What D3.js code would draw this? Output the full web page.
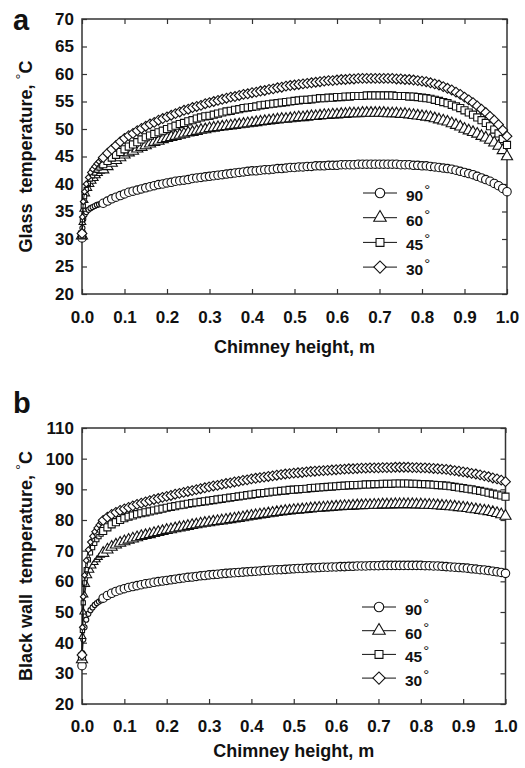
<!DOCTYPE html>
<html>
<head>
<meta charset="utf-8">
<script src="https://cdn.jsdelivr.net/npm/d3@7"></script>
<style>
  html, body { margin: 0; padding: 0; background: #fff; }
  svg { display: block; font-family: "Liberation Sans", Arial, sans-serif; font-weight: bold; }
</style>
</head>
<body>
<script>
// chimney height, m (fine grid near the inlet, then every 0.01)
const heights = [
  0, 0.001, 0.003, 0.006, 0.01, 0.015, 0.02, 0.025, 0.03, 0.035, 0.04, 0.045,
  0.05, 0.06, 0.07, 0.08, 0.09, 0.10, 0.11, 0.12, 0.13, 0.14, 0.15, 0.16, 0.17, 0.18, 0.19,
  0.20, 0.21, 0.22, 0.23, 0.24, 0.25, 0.26, 0.27, 0.28, 0.29, 0.30, 0.31, 0.32, 0.33, 0.34,
  0.35, 0.36, 0.37, 0.38, 0.39, 0.40, 0.41, 0.42, 0.43, 0.44, 0.45, 0.46, 0.47, 0.48, 0.49,
  0.50, 0.51, 0.52, 0.53, 0.54, 0.55, 0.56, 0.57, 0.58, 0.59, 0.60, 0.61, 0.62, 0.63, 0.64,
  0.65, 0.66, 0.67, 0.68, 0.69, 0.70, 0.71, 0.72, 0.73, 0.74, 0.75, 0.76, 0.77, 0.78, 0.79,
  0.80, 0.81, 0.82, 0.83, 0.84, 0.85, 0.86, 0.87, 0.88, 0.89, 0.90, 0.91, 0.92, 0.93, 0.94,
  0.95, 0.96, 0.97, 0.98, 0.99, 1.00
]
const angles = ['90', '60', '45', '30']

// (a) glass temperature, °C
const glass90 = [
  30.2, 32.0, 33.6, 34.4, 34.9, 35.3, 35.6, 35.8, 36.0, 36.2, 36.3, 36.4,
  36.5, 36.9, 37.3, 37.6, 37.9, 38.2, 38.5, 38.7, 38.9, 39.1, 39.3, 39.5, 39.7, 39.9, 40.0,
  40.2, 40.3, 40.5, 40.6, 40.7, 40.8, 41.0, 41.1, 41.2, 41.3, 41.4, 41.5, 41.6, 41.7, 41.8,
  41.9, 42.0, 42.1, 42.2, 42.3, 42.4, 42.4, 42.5, 42.6, 42.6, 42.7, 42.8, 42.8, 42.9, 43.0,
  43.0, 43.1, 43.1, 43.2, 43.2, 43.3, 43.3, 43.3, 43.4, 43.4, 43.4, 43.5, 43.5, 43.5, 43.5,
  43.6, 43.6, 43.6, 43.6, 43.6, 43.6, 43.6, 43.6, 43.6, 43.6, 43.5, 43.5, 43.5, 43.4, 43.4,
  43.3, 43.3, 43.2, 43.1, 43.0, 42.9, 42.8, 42.7, 42.5, 42.3, 42.1, 41.9, 41.7, 41.4, 41.1,
  40.8, 40.5, 40.1, 39.7, 39.2, 38.6
]
const glass60 = [
  30.6, 33.0, 35.4, 37.0, 38.2, 39.2, 39.9, 40.5, 41.0, 41.5, 41.9, 42.3,
  42.6, 43.2, 43.8, 44.3, 44.8, 45.3, 45.7, 46.0, 46.4, 46.7, 47.0, 47.3, 47.6, 47.8, 48.1,
  48.3, 48.5, 48.7, 48.9, 49.1, 49.3, 49.4, 49.6, 49.8, 49.9, 50.1, 50.2, 50.3, 50.4, 50.5,
  50.6, 50.7, 50.8, 50.9, 51.0, 51.1, 51.2, 51.3, 51.4, 51.5, 51.6, 51.7, 51.8, 51.8, 51.9,
  52.0, 52.1, 52.1, 52.2, 52.3, 52.3, 52.4, 52.5, 52.5, 52.6, 52.6, 52.7, 52.7, 52.8, 52.8,
  52.8, 52.9, 52.9, 52.9, 52.9, 52.9, 52.9, 52.8, 52.8, 52.8, 52.7, 52.7, 52.6, 52.5, 52.4,
  52.3, 52.2, 52.1, 51.9, 51.7, 51.5, 51.3, 51.0, 50.7, 50.4, 50.0, 49.7, 49.4, 49.1, 48.7,
  48.4, 48.0, 47.5, 46.9, 46.1, 45.0
]
const glass45 = [
  30.8, 33.5, 36.0, 37.7, 39.0, 40.1, 40.9, 41.5, 42.0, 42.5, 42.9, 43.3,
  43.6, 44.2, 44.8, 45.3, 45.8, 46.3, 46.8, 47.2, 47.6, 48.1, 48.5, 48.8, 49.1, 49.4, 49.7,
  50.0, 50.3, 50.6, 50.9, 51.1, 51.4, 51.6, 51.9, 52.1, 52.3, 52.4, 52.6, 52.8, 53.0, 53.2,
  53.3, 53.5, 53.6, 53.8, 53.9, 54.0, 54.1, 54.3, 54.4, 54.5, 54.6, 54.7, 54.8, 54.9, 55.0,
  55.1, 55.2, 55.3, 55.3, 55.4, 55.5, 55.6, 55.6, 55.7, 55.7, 55.8, 55.8, 55.9, 55.9, 56.0,
  56.0, 56.0, 56.1, 56.1, 56.1, 56.1, 56.1, 56.1, 56.1, 56.0, 56.0, 56.0, 55.9, 55.9, 55.8,
  55.7, 55.6, 55.5, 55.3, 55.1, 54.9, 54.7, 54.4, 54.1, 53.8, 53.4, 53.0, 52.6, 52.1, 51.6,
  51.1, 50.5, 49.9, 49.2, 48.2, 47.1
]
const glass30 = [
  31.0, 34.0, 36.8, 38.6, 40.0, 41.2, 42.1, 42.7, 43.2, 43.7, 44.1, 44.5,
  44.8, 45.6, 46.3, 47.0, 47.7, 48.3, 48.8, 49.2, 49.7, 50.1, 50.5, 50.9, 51.2, 51.6, 51.9,
  52.2, 52.5, 52.8, 53.1, 53.4, 53.6, 53.9, 54.1, 54.3, 54.6, 54.8, 55.0, 55.2, 55.4, 55.6,
  55.8, 55.9, 56.1, 56.3, 56.4, 56.6, 56.7, 56.9, 57.0, 57.2, 57.3, 57.5, 57.6, 57.8, 57.9,
  58.0, 58.1, 58.2, 58.3, 58.4, 58.5, 58.6, 58.7, 58.8, 58.8, 58.9, 59.0, 59.0, 59.1, 59.1,
  59.2, 59.2, 59.2, 59.2, 59.2, 59.2, 59.2, 59.2, 59.2, 59.1, 59.1, 59.0, 59.0, 58.9, 58.8,
  58.7, 58.6, 58.4, 58.2, 58.0, 57.7, 57.4, 57.1, 56.7, 56.3, 55.8, 55.3, 54.8, 54.2, 53.6,
  53.0, 52.3, 51.6, 50.8, 49.8, 48.7
]

// (b) black wall temperature, °C
const wall90 = [
  32.5, 36.6, 41.0, 45.0, 47.5, 49.4, 50.6, 51.5, 52.3, 52.9, 53.4, 53.8,
  54.5, 55.4, 56.1, 56.7, 57.2, 57.6, 58.0, 58.3, 58.6, 58.9, 59.2, 59.4, 59.7, 59.9, 60.1,
  60.3, 60.5, 60.7, 60.9, 61.1, 61.3, 61.4, 61.6, 61.8, 61.9, 62.1, 62.2, 62.3, 62.5, 62.6,
  62.7, 62.8, 62.9, 63.0, 63.1, 63.2, 63.3, 63.4, 63.5, 63.6, 63.7, 63.8, 63.8, 63.9, 64.0,
  64.1, 64.2, 64.2, 64.3, 64.4, 64.4, 64.5, 64.6, 64.6, 64.7, 64.7, 64.8, 64.8, 64.9, 64.9,
  65.0, 65.0, 65.0, 65.1, 65.1, 65.1, 65.2, 65.2, 65.2, 65.2, 65.2, 65.2, 65.2, 65.2, 65.2,
  65.2, 65.1, 65.1, 65.0, 65.0, 64.9, 64.8, 64.7, 64.6, 64.5, 64.4, 64.3, 64.1, 64.0, 63.8,
  63.7, 63.5, 63.3, 63.1, 62.9, 62.6
]
const wall60 = [
  34.5, 42.0, 50.0, 55.5, 59.0, 61.8, 63.6, 65.0, 66.1, 67.0, 67.8, 68.5,
  69.2, 70.3, 71.2, 71.9, 72.5, 73.0, 73.5, 73.9, 74.3, 74.7, 75.0, 75.3, 75.7, 76.0, 76.3,
  76.7, 76.9, 77.2, 77.5, 77.7, 78.0, 78.3, 78.5, 78.8, 79.0, 79.2, 79.4, 79.6, 79.8, 80.0,
  80.2, 80.4, 80.6, 80.8, 81.1, 81.3, 81.5, 81.7, 81.9, 82.1, 82.3, 82.5, 82.7, 82.9, 83.0,
  83.2, 83.3, 83.4, 83.5, 83.7, 83.8, 83.9, 84.0, 84.1, 84.2, 84.3, 84.4, 84.5, 84.5, 84.6,
  84.7, 84.7, 84.8, 84.8, 84.9, 84.9, 85.0, 85.0, 85.0, 85.1, 85.1, 85.1, 85.1, 85.1, 85.0,
  85.0, 84.9, 84.9, 84.8, 84.7, 84.6, 84.5, 84.4, 84.3, 84.1, 84.0, 83.8, 83.6, 83.4, 83.2,
  83.0, 82.8, 82.5, 82.2, 81.8, 81.3
]
const wall45 = [
  35.5, 44.0, 53.0, 59.5, 63.8, 67.0, 69.3, 71.0, 72.4, 73.6, 74.6, 75.4,
  76.4, 77.6, 78.6, 79.3, 80.0, 80.6, 81.1, 81.5, 81.9, 82.2, 82.5, 82.8, 83.1, 83.4, 83.7,
  84.0, 84.3, 84.5, 84.8, 85.0, 85.3, 85.5, 85.7, 85.9, 86.1, 86.3, 86.5, 86.7, 86.9, 87.1,
  87.3, 87.5, 87.7, 87.9, 88.1, 88.3, 88.5, 88.7, 88.8, 89.0, 89.2, 89.3, 89.5, 89.6, 89.8,
  89.9, 90.0, 90.1, 90.2, 90.4, 90.5, 90.6, 90.7, 90.8, 90.9, 91.0, 91.1, 91.2, 91.3, 91.4,
  91.4, 91.5, 91.6, 91.6, 91.7, 91.7, 91.8, 91.8, 91.8, 91.9, 91.9, 91.9, 91.9, 91.8, 91.8,
  91.7, 91.7, 91.6, 91.5, 91.4, 91.3, 91.2, 91.0, 90.8, 90.6, 90.4, 90.2, 90.0, 89.7, 89.5,
  89.2, 88.9, 88.6, 88.3, 88.0, 87.6
]
const wall30 = [
  36.0, 45.0, 55.0, 62.0, 66.8, 70.3, 72.8, 74.7, 76.2, 77.4, 78.4, 79.2,
  79.9, 80.9, 81.8, 82.5, 83.1, 83.6, 84.1, 84.6, 85.1, 85.5, 85.9, 86.3, 86.7, 87.0, 87.4,
  87.7, 88.0, 88.4, 88.7, 89.0, 89.3, 89.6, 89.9, 90.2, 90.5, 90.8, 91.1, 91.3, 91.6, 91.9,
  92.1, 92.4, 92.6, 92.9, 93.1, 93.4, 93.6, 93.8, 94.0, 94.2, 94.4, 94.6, 94.8, 95.0, 95.1,
  95.3, 95.4, 95.5, 95.7, 95.8, 95.9, 96.0, 96.1, 96.2, 96.3, 96.4, 96.5, 96.6, 96.7, 96.7,
  96.8, 96.9, 96.9, 97.0, 97.0, 97.0, 97.1, 97.1, 97.1, 97.2, 97.2, 97.2, 97.2, 97.1, 97.1,
  97.0, 97.0, 96.9, 96.8, 96.7, 96.6, 96.5, 96.3, 96.1, 95.9, 95.7, 95.5, 95.2, 95.0, 94.7,
  94.4, 94.1, 93.7, 93.4, 93.0, 92.5
]

const ink = '#111'
const axisInk = '#333'

const symbols = {
  '90': d3.symbolCircle,
  '60': d3.symbolTriangle,
  '45': d3.symbolSquare,
  '30': d3.symbolSquare // rotated into a diamond below
}
const symbolSize = { '90': 56, '60': 54, '45': 50, '30': 48 }

const svg = d3.select('body')
  .append('svg')
  .attr('width', 525)
  .attr('height', 768)

function marker(sel, angle, scale = 1) {
  sel
    .attr('d', d3.symbol(symbols[angle], symbolSize[angle] * scale * scale)())
    .attr('fill', '#fff')
    .attr('stroke', ink)
    .attr('stroke-width', 1.1)
}

function drawPanel({ margin, yDomain, yTickCount, series, label, labelY, yTitle, xLabelY, xTitleY, legend }) {
  const g = svg.append('g')

  const x = d3.scaleLinear().domain([0, 1]).range([margin.left, margin.right])
  const y = d3.scaleLinear().domain(yDomain).range([margin.bottom, margin.top])

  // axes: ticks point inwards on all four sides
  const axes = g.append('g').attr('class', 'axes')
  const fmtX = d3.format('.1f')

  axes.append('g')
    .attr('transform', `translate(0,${margin.bottom})`)
    .call(d3.axisBottom(x).ticks(10).tickFormat(fmtX).tickSizeInner(-5).tickSizeOuter(0).tickPadding(0))
    .call(a => a.select('.domain').remove())
    .call(a => a.selectAll('.tick text')
      .attr('y', xLabelY - margin.bottom).attr('dy', null))

  axes.append('g')
    .attr('transform', `translate(0,${margin.top})`)
    .call(d3.axisTop(x).ticks(10).tickFormat('').tickSizeInner(-5).tickSizeOuter(0))
    .call(a => a.select('.domain').remove())

  axes.append('g')
    .attr('transform', `translate(${margin.left},0)`)
    .call(d3.axisLeft(y).ticks(yTickCount).tickSizeInner(-5).tickSizeOuter(0).tickPadding(8))
    .call(a => a.select('.domain').remove())

  axes.append('g')
    .attr('transform', `translate(${margin.right},0)`)
    .call(d3.axisRight(y).ticks(yTickCount).tickFormat('').tickSizeInner(-5).tickSizeOuter(0))
    .call(a => a.select('.domain').remove())

  axes.selectAll('.tick line').attr('stroke', axisInk).attr('stroke-width', 1.2)
  axes.selectAll('.tick text')
    .attr('fill', '#111')
    .attr('font-size', 17)
    .attr('font-family', '"Liberation Sans", Arial, sans-serif')
    .attr('font-weight', 'bold')

  g.append('rect')
    .attr('x', margin.left)
    .attr('y', margin.top)
    .attr('width', margin.right - margin.left)
    .attr('height', margin.bottom - margin.top)
    .attr('fill', 'none')
    .attr('stroke', axisInk)
    .attr('stroke-width', 1.5)

  // curves
  const line = d3.line().x((d, i) => x(heights[i])).y(d => y(d))
  const curves = g.append('g').attr('class', 'curves')

  series.forEach(({ angle, values }) => {
    const c = curves.append('g').attr('class', `s${angle}`)
    c.append('path')
      .attr('d', line(values))
      .attr('fill', 'none')
      .attr('stroke', ink)
      .attr('stroke-width', 1)
    c.selectAll('path.pt')
      .data(values)
      .join('path')
      .attr('class', 'pt')
      .attr('transform', (d, i) => `translate(${x(heights[i])},${y(d)})${angle === '30' ? ' rotate(45)' : ''}`)
      .each(function (d, i) { marker(d3.select(this), angle, heights[i] < 0.05 && heights[i] > 0 ? 0.6 : 1) })
  })

  // legend
  const lg = g.append('g').attr('class', 'legend')
  angles.forEach((angle, i) => {
    const yy = legend.top + i * legend.step
    lg.append('line')
      .attr('x1', legend.x).attr('x2', legend.x + 34)
      .attr('y1', yy).attr('y2', yy)
      .attr('stroke', ink).attr('stroke-width', 1)
    lg.append('path')
      .attr('transform', `translate(${legend.x + 17},${yy})${angle === '30' ? ' rotate(45)' : ''}`)
      .call(marker, angle, angle === '30' ? 1.25 : 1.12)
    const t = lg.append('text')
      .attr('x', legend.x + 43)
      .attr('y', yy + 8)
      .attr('font-size', 15.5)
      .attr('fill', '#111')
      .text(angle)
    t.append('tspan').attr('dx', 1).attr('dy', -6).attr('font-size', 15).attr('font-weight', 'normal').text('°')
  })

  // axis titles and panel letter
  g.append('text')
    .attr('x', (margin.left + margin.right) / 2)
    .attr('y', xTitleY)
    .attr('text-anchor', 'middle')
    .attr('font-size', 18)
    .attr('fill', '#111')
    .text('Chimney height, m')

  const yt = g.append('text')
    .attr('transform', `translate(32,${(margin.top + margin.bottom) / 2}) rotate(-90)`)
    .attr('text-anchor', 'middle')
    .attr('font-size', 18)
    .attr('fill', '#111')
    .attr('xml:space', 'preserve')
    .style('white-space', 'pre')
    .text(yTitle)
  yt.append('tspan').attr('dy', -6).attr('font-size', 15).attr('font-weight', 'normal').text('°')
  yt.append('tspan').attr('dy', 6).text('C')

  g.append('text')
    .attr('x', 13)
    .attr('y', labelY)
    .attr('font-size', 29)
    .attr('fill', '#111')
    .text(label)
}

drawPanel({
  margin: { top: 19, bottom: 294, left: 82, right: 507 },
  yDomain: [20, 70],
  yTickCount: 10,
  series: [
    { angle: '90', values: glass90 },
    { angle: '60', values: glass60 },
    { angle: '45', values: glass45 },
    { angle: '30', values: glass30 }
  ],
  label: 'a',
  labelY: 30,
  yTitle: 'Glass  temperature, ',
  xLabelY: 323,
  xTitleY: 353,
  legend: { x: 363, top: 193, step: 24.7 }
})

drawPanel({
  margin: { top: 428, bottom: 704, left: 82, right: 505.5 },
  yDomain: [20, 110],
  yTickCount: 9,
  series: [
    { angle: '90', values: wall90 },
    { angle: '60', values: wall60 },
    { angle: '45', values: wall45 },
    { angle: '30', values: wall30 }
  ],
  label: 'b',
  labelY: 413,
  yTitle: 'Black wall  temperature, ',
  xLabelY: 732,
  xTitleY: 757,
  legend: { x: 362, top: 607, step: 23.7 }
})
</script>
</body>
</html>
